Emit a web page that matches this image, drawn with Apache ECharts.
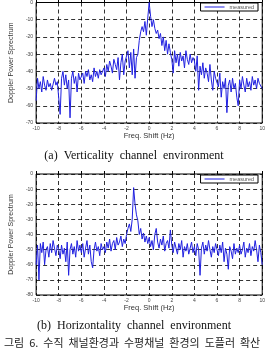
<!DOCTYPE html>
<html><head><meta charset="utf-8">
<script src="https://cdn.jsdelivr.net/npm/echarts@6/dist/echarts.min.js"></script>
<style>html,body{margin:0;padding:0;background:#fff}#c{width:268px;height:349px}</style>
</head><body><div id="c"></div>
<script>
var xStart = -10, xStep = 0.125;
var xTicks = [-10,-8,-6,-4,-2,0,2,4,6,8,10];
var seriesName = 'measured';
var verticalValues = [
-57,-44,-50,-46,-52,-43,-48,-51,-45,-49,-47,-51,-50,-44,-48,-46,
-47,-65,-44,-40,-48,-42,-50,-45,-67,-44,-40,-47,-43,-52,-41,-45,
-44,-41,-47,-40,-43,-39,-45,-42,-46,-38,-43,-40,-44,-39,-42,-41,
-38,-43,-36,-40,-34,-37,-41,-33,-36,-39,-32,-45,-35,-30,-42,-34,
-31,-28,-38,-29,-42,-27,-44,-32,-30,-22,-17,-14,-17,-11,-19,-9,
0,-8,-14,-10,-15,-18,-16,-21,-18,-25,-20,-28,-22,-30,-24,-29,
-33,-41,-28,-35,-30,-37,-29,-34,-31,-38,-28,-33,-36,-30,-35,-32,
-34,-40,-31,-51,-37,-42,-35,-44,-38,-41,-46,-36,-45,-51,-40,-44,
-43,-49,-41,-55,-46,-50,-44,-64,-48,-45,-52,-44,-50,-47,-55,-60,
-45,-50,-43,-48,-52,-44,-49,-46,-51,-43,-48,-45,-50,-44,-47,-46,-50
];
var horizontalValues = [
-60,-47,-70,-46,-52,-45,-60,-50,-48,-55,-46,-52,-44,-49,-54,-47,
-50,-56,-47,-53,-49,-58,-45,-67,-50,-46,-53,-48,-55,-44,-51,-47,
-52,-46,-55,-49,-44,-53,-47,-58,-62,-50,-45,-51,-48,-54,-46,-50,
-48,-52,-45,-49,-43,-51,-46,-44,-50,-42,-47,-45,-41,-48,-43,-46,
-40,-36,-33,-38,-30,-9,-20,-27,-31,-40,-36,-43,-39,-45,-41,-46,
-42,-48,-44,-50,-40,-36,-45,-49,-43,-47,-41,-51,-46,-44,-49,-37,
-47,-52,-45,-49,-53,-46,-50,-44,-55,-48,-51,-46,-53,-49,-45,-52,
-48,-54,-46,-50,-67,-49,-45,-53,-47,-51,-44,-50,-55,-48,-52,-46,
-50,-54,-47,-52,-45,-58,-49,-53,-63,-48,-51,-56,-46,-53,-49,-52,
-47,-53,-50,-45,-55,-49,-52,-46,-54,-48,-51,-44,-50,-58,-47,-52,-60
];
var yTicksTop = [0,-10,-20,-30,-40,-50,-60,-70];
var yTicksBottom = [0,-10,-20,-30,-40,-50,-60,-70,-80];
var captionA = '(a)  Verticality  channel  environment';
var captionB = '(b)  Horizontality  channel  environment';
var captionK = '그림  6.  수직  채널환경과  수평채널  환경의  도플러  확산';
var xTitle = 'Freq. Shift (Hz)';
var yTitle = 'Doppler Power Sprectrum';

function pairs(vals){ return vals.map(function(v,i){ return [xStart + i*xStep, v]; }); }

var chart = echarts.init(document.getElementById('c'), null, {renderer:'canvas'});
function xAxis(gi){
  return {type:'value', gridIndex:gi, min:xTicks[0], max:xTicks[xTicks.length-1], interval:2,
    name:xTitle, nameLocation:'middle', nameGap:9,
    nameTextStyle:{fontSize:7.5, color:'#333', fontFamily:'Liberation Sans'},
    axisLine:{show:false}, axisTick:{inside:true, length:3, lineStyle:{color:'#000'}},
    axisLabel:{fontSize:5, color:'#444', margin:3},
    splitLine:{show:true, lineStyle:{color:'#000', type:[4,3], width:0.8}}};
}
function yAxis(gi, mn){
  return {type:'value', gridIndex:gi, min:mn, max:0, interval:10,
    name:yTitle, nameLocation:'middle', nameGap:21, nameRotate:90,
    nameTextStyle:{fontSize:7, color:'#333', fontFamily:'Liberation Sans'},
    axisLine:{show:false}, axisTick:{inside:true, length:3, lineStyle:{color:'#000'}},
    axisLabel:{fontSize:5, color:'#444', margin:3},
    splitLine:{show:true, lineStyle:{color:'#000', type:[4,3], width:0.8}}};
}
chart.setOption({
  animation:false,
  backgroundColor:'#fff',
  title:[
    {text:captionA, left:'center', top:145, textStyle:{fontSize:12, fontWeight:'normal', color:'#111', fontFamily:'Liberation Serif'}},
    {text:captionB, left:'center', top:315, textStyle:{fontSize:12, fontWeight:'normal', color:'#111', fontFamily:'Liberation Serif'}},
    {text:captionK, left:-1, top:332, textStyle:{fontSize:11, fontWeight:'normal', color:'#222', fontFamily:'Noto Sans CJK KR'}}
  ],
  grid:[
    {left:33, right:5, top:2, height:121, show:true, borderColor:'#000', borderWidth:1, backgroundColor:'transparent'},
    {left:33, right:5, top:174, height:121, show:true, borderColor:'#000', borderWidth:1, backgroundColor:'transparent'}
  ],
  legend:[
    {data:[seriesName], right:10, top:3, itemWidth:20, itemHeight:8, padding:[1,4], itemGap:2,
     borderColor:'#000', borderWidth:1, backgroundColor:'#fff', icon:'path://M0,4L20,4L20,5L0,5Z',
     textStyle:{fontSize:5.5, color:'#555'}},
    {data:[seriesName], right:10, top:175, itemWidth:20, itemHeight:8, padding:[1,4], itemGap:2,
     borderColor:'#000', borderWidth:1, backgroundColor:'#fff', icon:'path://M0,4L20,4L20,5L0,5Z',
     textStyle:{fontSize:5.5, color:'#555'}}
  ],
  xAxis:[xAxis(0), xAxis(1)],
  yAxis:[yAxis(0, yTicksTop[yTicksTop.length-1]), yAxis(1, yTicksBottom[yTicksBottom.length-1])],
  series:[
    {name:seriesName, type:'line', xAxisIndex:0, yAxisIndex:0, data:pairs(verticalValues), showSymbol:false, lineStyle:{color:'#2020e0', width:1}, itemStyle:{color:'#2020e0'}},
    {name:seriesName, type:'line', xAxisIndex:1, yAxisIndex:1, data:pairs(horizontalValues), showSymbol:false, lineStyle:{color:'#2020e0', width:1}, itemStyle:{color:'#2020e0'}}
  ]
});
</script></body></html>
